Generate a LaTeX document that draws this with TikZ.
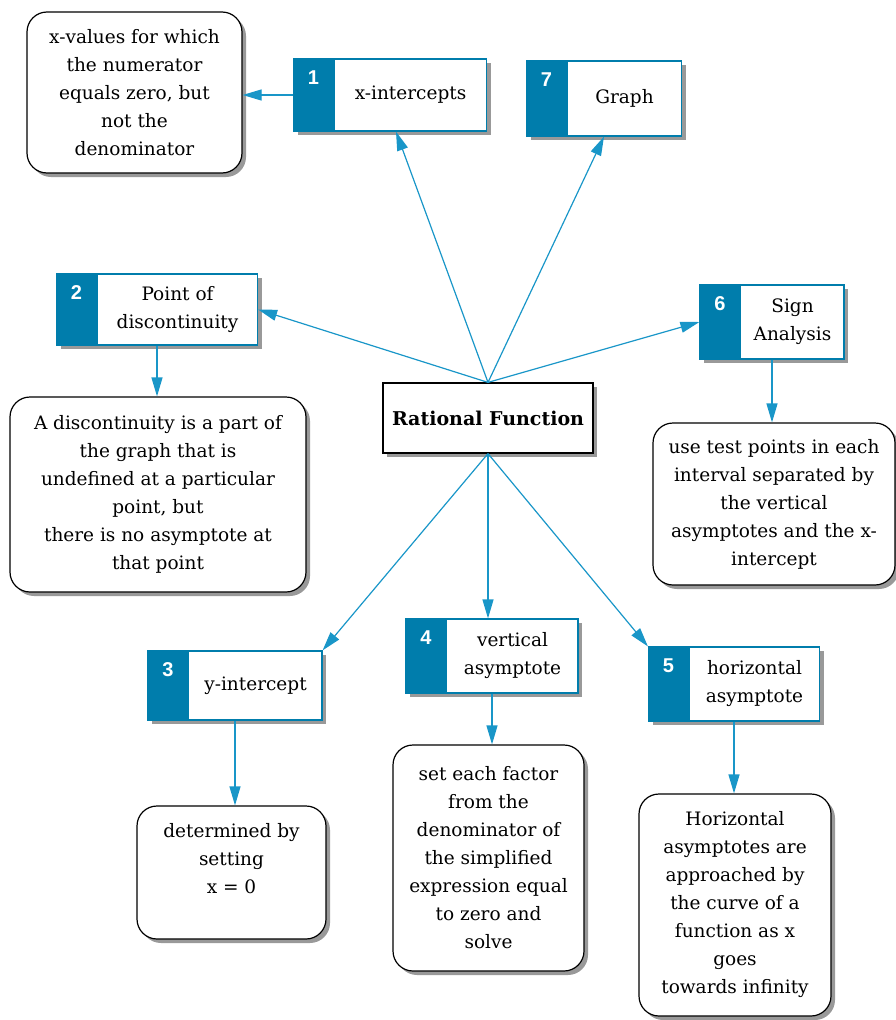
\documentclass[tikz,border=0pt]{standalone}
\usepackage{fontspec}
\setmainfont{DejaVu Serif}
\newfontfamily\numfont{Liberation Sans}
\usetikzlibrary{arrows.meta,shadows}
\definecolor{stripeblue}{RGB}{0,125,172}
\definecolor{lineblue}{RGB}{25,150,200}

\begin{document}
\begin{tikzpicture}[x=1pt, y=-1pt,
  topic/.style={rectangle, draw=stripeblue, fill=white, line width=1.2pt, inner sep=0pt,
    drop shadow={shadow xshift=4pt, shadow yshift=-4pt, fill=black!40, opacity=1},
    path picture={\fill[stripeblue] (path picture bounding box.north west) rectangle ([xshift=41pt]path picture bounding box.south west);}},
  num/.style={text=white, font=\numfont\bfseries\fontsize{20}{22}\selectfont},
  txt/.style={align=center, inner sep=0pt, font=\fontsize{18.5}{28}\selectfont},
  note/.style={rectangle, rounded corners=20pt, draw, line width=1.2pt, fill=white, align=center, inner sep=0pt,
    font=\fontsize{18.5}{28}\selectfont,
    drop shadow={shadow xshift=4pt, shadow yshift=-4pt, fill=black!40, opacity=1}},
  mainbox/.style={rectangle, draw, line width=1.2pt, fill=white, font=\bfseries\fontsize{19}{22}\selectfont,
    drop shadow={shadow xshift=4pt, shadow yshift=-4pt, fill=black!40, opacity=1}},
  arrow/.style={-{Triangle[length=19pt, width=11pt]}, lineblue, line width=1.2pt}
]
\useasboundingbox (0,0) rectangle (896,1020);

% centre
\node[mainbox, minimum width=210pt, minimum height=70pt] (main) at (488,418) {Rational Function};

% numbered topics
\node[topic, minimum width=193pt, minimum height=72pt] (b1) at (390,95) {};
\node[num] (n1) at ([xshift=20.5pt, yshift=-19pt]b1.north west) {1};
\node[txt] (t1) at ([xshift=20.5pt]b1.center) {x-intercepts};

\node[topic, minimum width=155pt, minimum height=75pt] (b7) at (604,98.5) {};
\node[num] (n7) at ([xshift=20.5pt, yshift=-19pt]b7.north west) {7};
\node[txt] (t7) at ([xshift=20.5pt]b7.center) {Graph};

\node[topic, minimum width=201pt, minimum height=71pt] (b2) at (157,309.5) {};
\node[num] (n2) at ([xshift=20.5pt, yshift=-19pt]b2.north west) {2};
\node[txt] (t2) at ([xshift=20.5pt]b2.center) {Point of\\discontinuity};

\node[topic, minimum width=144pt, minimum height=74pt] (b6) at (772,322) {};
\node[num] (n6) at ([xshift=20.5pt, yshift=-19pt]b6.north west) {6};
\node[txt] (t6) at ([xshift=20.5pt]b6.center) {Sign\\Analysis};

\node[topic, minimum width=174pt, minimum height=69pt] (b3) at (235,685.5) {};
\node[num] (n3) at ([xshift=20.5pt, yshift=-19pt]b3.north west) {3};
\node[txt] (t3) at ([xshift=20.5pt]b3.center) {y-intercept};

\node[topic, minimum width=172pt, minimum height=74pt] (b4) at (492,656) {};
\node[num] (n4) at ([xshift=20.5pt, yshift=-19pt]b4.north west) {4};
\node[txt] (t4) at ([xshift=20.5pt]b4.center) {vertical\\asymptote};

\node[topic, minimum width=171pt, minimum height=74pt] (b5) at (734,684) {};
\node[num] (n5) at ([xshift=20.5pt, yshift=-19pt]b5.north west) {5};
\node[txt] (t5) at ([xshift=20.5pt]b5.center) {horizontal\\asymptote};

% explanations
\node[note, minimum width=215pt, minimum height=161pt] (r1) at (134.5,92.5) {x-values for which\\the numerator\\equals zero, but\\not the\\denominator};
\node[note, minimum width=296pt, minimum height=195pt] (r2) at (158,494.5) {A discontinuity is a part of\\the graph that is\\undefined at a particular\\point, but\\there is no asymptote at\\that point};
\node[note, minimum width=242pt, minimum height=162pt] (r6) at (774,504) {use test points in each\\interval separated by\\the vertical\\asymptotes and the x-\\intercept};
\node[note, minimum width=189pt, minimum height=133pt] (r3) at (231.5,872.5) {determined by\\setting\\x = 0\\\mbox{}};
\node[note, minimum width=191pt, minimum height=226pt] (r4) at (488.5,858) {set each factor\\from the\\denominator of\\the simplified\\expression equal\\to zero and\\solve};
\node[note, minimum width=192pt, minimum height=222pt] (r5) at (735,905) {Horizontal\\asymptotes are\\approached by\\the curve of a\\function as x\\goes\\towards infinity};

% connectors
\draw[arrow] (main.north) -- ([xshift=6pt]b1.south);
\draw[arrow] (main.north) -- (b7.south);
\draw[arrow] (main.north) -- (b2.east);
\draw[arrow] (main.north) -- (b6.west);
\draw[arrow] (main.south) -- (b3.north east);
\draw[arrow] (main.south) -- (main.south |- b4.north);
\draw[arrow] (main.south) -- (b5.north west);
\draw[arrow] (b1.west) -- (b1.west -| r1.east);
\draw[arrow] (b2.south) -- (b2.south |- r2.north);
\draw[arrow] (b6.south) -- (b6.south |- r6.north);
\draw[arrow] (b3.south) -- (b3.south |- r3.north);
\draw[arrow] (b4.south) -- (b4.south |- r4.north);
\draw[arrow] (b5.south) -- (b5.south |- r5.north);
\end{tikzpicture}
\end{document}
